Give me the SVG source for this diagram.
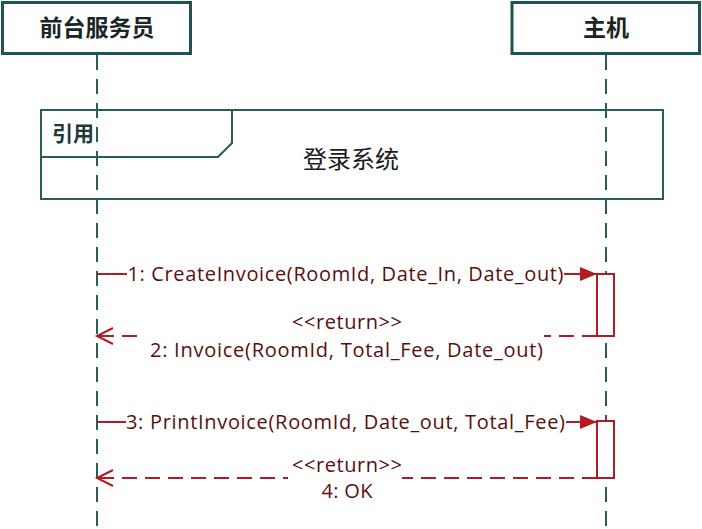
<svg xmlns="http://www.w3.org/2000/svg" width="702" height="529" viewBox="0 0 702 529">
<style>
.hdr{fill:#fff;stroke:#1f5454;stroke-width:3}
.hdrt{font-family:"Noto Sans CJK SC","Liberation Sans",sans-serif;font-size:23px;font-weight:bold;fill:#1a2626;text-anchor:middle}
.life{stroke:#2a5c5c;stroke-width:2;stroke-dasharray:15 9;fill:none}
.frame{fill:none;stroke:#2a5c5c;stroke-width:2}
.msg{stroke:#b01c24;stroke-width:2;fill:none}
.ret{stroke:#b01c24;stroke-width:2;fill:none;stroke-dasharray:15 8}
.act{fill:#fff;stroke:#b01c24;stroke-width:2}
.lbl{font-family:"Open Sans","Liberation Sans",sans-serif;font-size:20px;fill:#5a0e0e;text-anchor:middle}
.bg{fill:#fff}
</style>
<defs>
<marker id="filled" markerWidth="18" markerHeight="16" refX="17" refY="8" orient="auto" markerUnits="userSpaceOnUse">
<path d="M0,1 L17,8 L0,15 Z" fill="#b01c24"/>
</marker>
<marker id="open" markerWidth="20" markerHeight="20" refX="17" refY="10" orient="auto" markerUnits="userSpaceOnUse">
<path d="M1,2 L17,10 L1,18" fill="none" stroke="#b01c24" stroke-width="2"/>
</marker>
</defs>
<rect width="702" height="529" fill="#fff"/>
<g id="lifelines">
<line class="life" x1="97" y1="55" x2="97" y2="529"/>
<line class="life" x1="606" y1="55" x2="606" y2="529"/>
</g>
<g id="node-clerk">
<rect class="hdr" x="2.5" y="2.5" width="188" height="51"/>
<text class="hdrt" x="97" y="36">前台服务员</text>
</g>
<g id="node-host">
<rect class="hdr" x="512" y="2.5" width="187.5" height="51"/>
<text class="hdrt" x="606" y="36">主机</text>
</g>
<g id="ref-frame">
<rect class="frame" x="41" y="110" width="622" height="89"/>
<path class="frame" d="M41,157 L218,157 L232,143 L232,110"/>
<text x="52" y="141" font-family="Noto Sans CJK SC,sans-serif" font-size="21" font-weight="bold" fill="#1f3a3a">引用</text>
<text x="351" y="168" font-family="Noto Sans CJK SC,sans-serif" font-size="24" fill="#1a1a1a" text-anchor="middle">登录系统</text>
</g>
<g id="activations">
<rect class="act" x="597" y="274" width="17" height="62"/>
<rect class="act" x="597" y="421" width="17" height="57"/>
</g>
<g id="connectors">
<line class="msg" x1="97" y1="274" x2="597" y2="274" marker-end="url(#filled)"/>
<line class="ret" x1="597" y1="336" x2="97" y2="336" marker-end="url(#open)"/>
<line class="msg" x1="97" y1="422" x2="597" y2="422" marker-end="url(#filled)"/>
<line class="ret" x1="597" y1="478" x2="97" y2="478" marker-end="url(#open)"/>
</g>
<g id="labels">
<rect class="bg" x="127" y="264" width="437" height="22"/>
<text class="lbl" x="345.5" y="281" textLength="436">1: CreateInvoice(RoomId, Date_In, Date_out)</text>
<rect class="bg" x="144" y="312" width="400" height="50"/>
<text class="lbl" x="347" y="329" textLength="110">&lt;&lt;return&gt;&gt;</text>
<text class="lbl" x="346.5" y="357" textLength="393">2: Invoice(RoomId, Total_Fee, Date_out)</text>
<rect class="bg" x="126" y="412" width="440" height="22"/>
<text class="lbl" x="345.5" y="429" textLength="439">3: PrintInvoice(RoomId, Date_out, Total_Fee)</text>
<rect class="bg" x="288" y="456" width="114" height="46"/>
<text class="lbl" x="347" y="472" textLength="110">&lt;&lt;return&gt;&gt;</text>
<text class="lbl" x="347" y="498" textLength="51">4: OK</text>
</g>
</svg>
